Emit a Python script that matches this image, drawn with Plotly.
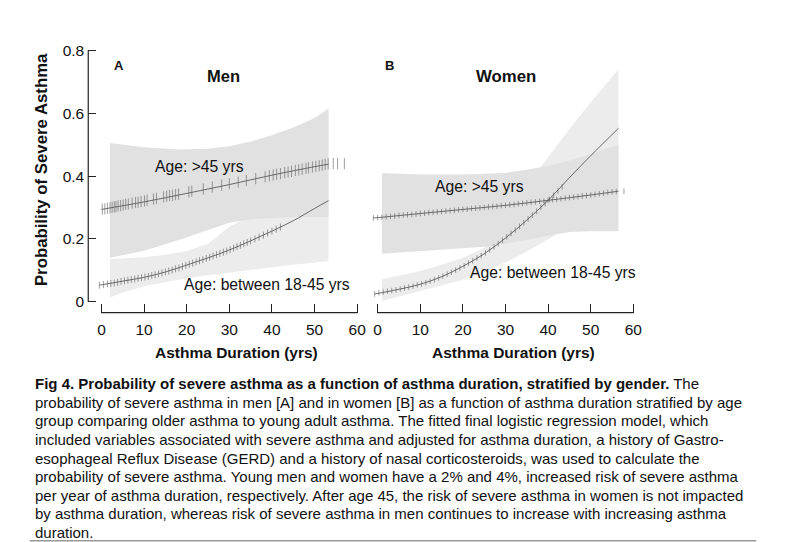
import plotly.graph_objects as go

OFF = 8  # the page body has an 8px margin; work in window pixels
W, H = 790 - OFF, 542 - OFF
FONT = "Liberation Sans, Arial, sans-serif"


def pxx(p):
    return (p - OFF) / W


def pxy(p):
    return 1 - (p - OFF) / H


# ---------------- data ----------------
x_ticks = [0, 10, 20, 30, 40, 50, 60]
y_ticks = [0, 0.2, 0.4, 0.6, 0.8]
y_tick_text = ["0", "0.2", "0.4", "0.6", "0.8"]

# Men, age > 45
men_old_line_x = [0, 10, 20, 30, 40, 50, 53.3]
men_old_line_y = [0.294, 0.318, 0.345, 0.373, 0.403, 0.430, 0.438]
men_old_band_x = [2, 10, 18, 25, 30, 35, 40, 45, 50, 53.3]
men_old_lo = [0.140, 0.163, 0.196, 0.228, 0.252, 0.263, 0.267, 0.269, 0.270, 0.270]
men_old_hi = [0.505, 0.492, 0.485, 0.487, 0.495, 0.510, 0.530, 0.555, 0.585, 0.615]
men_old_rug_x = [0.2, 0.8, 1.4, 2.0, 2.5, 3.0, 3.4, 3.9, 4.5, 5.1, 5.7, 6.3, 7.2, 8.0, 8.6,
                 9.3, 10.1, 10.7, 12.2, 12.9, 14.6, 15.3, 16.0, 16.7, 17.4, 18.1, 20.5, 21.2,
                 23.9, 26.0, 28.2, 30.0, 32.1, 34.0, 36.2, 38.4, 39.4, 40.3, 41.1, 42.0, 43.0,
                 43.8, 44.6, 45.5, 46.3, 47.1, 48.0, 48.6, 49.5, 50.3, 51.1, 51.8, 52.5, 53.2,
                 54.4, 55.4, 57.0]
men_old_rug_y = [0.295, 0.296, 0.298, 0.299, 0.301, 0.302, 0.303, 0.305, 0.306, 0.308, 0.310,
                 0.311, 0.314, 0.316, 0.317, 0.319, 0.321, 0.323, 0.327, 0.329, 0.334, 0.336,
                 0.338, 0.339, 0.341, 0.343, 0.350, 0.352, 0.359, 0.365, 0.371, 0.376, 0.381,
                 0.386, 0.392, 0.398, 0.401, 0.404, 0.406, 0.408, 0.411, 0.413, 0.415, 0.418,
                 0.420, 0.422, 0.425, 0.426, 0.429, 0.431, 0.433, 0.435, 0.437, 0.439, 0.440,
                 0.440, 0.440]

# Men, age 18-45
men_young_line_x = [-0.5, 5, 10, 15, 20, 25, 30, 35, 40, 45, 50, 53.3]
men_young_line_y = [0.053, 0.066, 0.078, 0.095, 0.117, 0.140, 0.165, 0.194, 0.225, 0.258, 0.297, 0.322]
men_young_band_x = [2, 5, 10, 15, 20, 25, 30, 35, 40, 45, 53.3]
men_young_lo = [0.014, 0.030, 0.050, 0.063, 0.075, 0.085, 0.094, 0.102, 0.110, 0.118, 0.130]
men_young_hi = [0.136, 0.138, 0.142, 0.150, 0.162, 0.185, 0.240, 0.272, 0.276, 0.278, 0.280]
men_young_rug_x = [-0.5, 0.5, 1.4, 2.2, 3.0, 3.8, 4.6, 5.4, 6.2, 7.0, 7.8, 8.6, 9.4, 10.2, 11.0,
                   11.8, 12.6, 13.4, 14.2, 15.0, 15.8, 16.6, 17.4, 18.2, 19.0, 19.8, 20.6, 21.4,
                   22.2, 23.0, 23.8, 24.6, 25.4, 26.2, 27.0, 27.8, 28.6, 29.4, 30.2, 31.0, 31.8,
                   32.6, 33.4, 34.2, 35.0, 36.0, 37.0, 38.0, 39.0, 40.0, 41.0, 42.0]
men_young_rug_y = [0.053, 0.055, 0.057, 0.058, 0.060, 0.062, 0.065, 0.067, 0.069, 0.071, 0.073,
                   0.075, 0.077, 0.079, 0.081, 0.084, 0.086, 0.089, 0.092, 0.095, 0.098, 0.101,
                   0.105, 0.108, 0.112, 0.116, 0.120, 0.123, 0.127, 0.131, 0.134, 0.138, 0.142,
                   0.146, 0.150, 0.154, 0.158, 0.162, 0.166, 0.171, 0.176, 0.180, 0.185, 0.189,
                   0.194, 0.200, 0.206, 0.212, 0.219, 0.225, 0.231, 0.238]

# Women, age > 45
wom_old_line_x = [-1, 0, 10, 20, 30, 40, 50, 56.5]
wom_old_line_y = [0.267, 0.268, 0.281, 0.294, 0.307, 0.323, 0.340, 0.352]
wom_old_band_x = [1, 10, 20, 25, 30, 35, 40, 45, 50, 56.5]
wom_old_lo = [0.153, 0.160, 0.170, 0.175, 0.185, 0.197, 0.210, 0.222, 0.225, 0.225]
wom_old_hi = [0.410, 0.405, 0.405, 0.407, 0.410, 0.420, 0.432, 0.450, 0.470, 0.500]
wom_old_rug_x = [-1, 0, 1, 2, 3, 4, 5, 6, 7, 8, 9, 10, 11, 12, 13, 14, 15, 16, 17, 18, 19, 20,
                 21, 22, 23, 24, 25, 26, 27, 28, 29, 30, 31, 32, 33, 34, 35, 36, 37, 38, 39, 40,
                 41, 42, 43, 44, 45, 46, 47, 48, 49, 50, 51, 52, 53, 54, 55, 56, 57.8]
wom_old_rug_y = [0.267, 0.268, 0.269, 0.271, 0.272, 0.273, 0.275, 0.276, 0.277, 0.278, 0.280,
                 0.281, 0.282, 0.284, 0.285, 0.286, 0.287, 0.289, 0.290, 0.291, 0.293, 0.294,
                 0.295, 0.297, 0.298, 0.299, 0.300, 0.302, 0.303, 0.304, 0.306, 0.307, 0.309,
                 0.310, 0.312, 0.313, 0.315, 0.317, 0.318, 0.320, 0.321, 0.323, 0.325, 0.326,
                 0.328, 0.330, 0.332, 0.333, 0.335, 0.337, 0.338, 0.340, 0.342, 0.344, 0.346,
                 0.348, 0.350, 0.351, 0.352]

# Women, age 18-45
wom_young_line_x = [-0.7, 5, 10, 15, 20, 25, 30, 35, 40, 45, 50, 56.5]
wom_young_line_y = [0.025, 0.040, 0.056, 0.080, 0.113, 0.153, 0.203, 0.260, 0.323, 0.395, 0.465, 0.552]
wom_young_band_x = [1, 5, 10, 15, 20, 25, 30, 35, 37.7, 40, 45, 50, 56.5]
wom_young_lo = [0.003, 0.018, 0.035, 0.052, 0.070, 0.095, 0.125, 0.160, 0.180, 0.198, 0.238, 0.280, 0.330]
wom_young_hi = [0.072, 0.083, 0.098, 0.118, 0.140, 0.172, 0.260, 0.365, 0.420, 0.460, 0.550, 0.635, 0.740]
wom_young_rug_x = [-0.7, 0.3, 1.3, 2.3, 3.3, 4.3, 5.3, 6.3, 7.3, 8.3, 9.3, 10.3, 11.3, 12.3, 13.3,
                   14.3, 15.3, 16.3, 17.3, 18.3, 19.3, 20.3, 21.3, 22.3, 23.3, 24.3, 25.3, 26.3,
                   27.3, 28.3, 29.3, 30.3, 31.3, 32.3, 33.3, 34.3, 35.3, 36.3, 37.3, 38.3, 39.3,
                   40.3, 41.3, 42.3, 43.3]
wom_young_rug_y = [0.025, 0.029, 0.031, 0.034, 0.036, 0.038, 0.041, 0.044, 0.047, 0.050, 0.054,
                   0.057, 0.061, 0.066, 0.071, 0.076, 0.082, 0.088, 0.094, 0.101, 0.108, 0.115,
                   0.123, 0.131, 0.139, 0.147, 0.156, 0.165, 0.175, 0.185, 0.196, 0.207, 0.218,
                   0.229, 0.240, 0.252, 0.264, 0.276, 0.288, 0.301, 0.313, 0.326, 0.339, 0.353,
                   0.366]

caption_lines = [
    "<b>Fig 4. Probability of severe asthma as a function of asthma duration, stratified by gender.</b> The",
    "probability of severe asthma in men [A] and in women [B] as a function of asthma duration stratified by age",
    "group comparing older asthma to young adult asthma. The fitted final logistic regression model, which",
    "included variables associated with severe asthma and adjusted for asthma duration, a history of Gastro-",
    "esophageal Reflux Disease (GERD) and a history of nasal corticosteroids, was used to calculate the",
    "probability of severe asthma. Young men and women have a 2% and 4%, increased risk of severe asthma",
    "per year of asthma duration, respectively. After age 45, the risk of severe asthma in women is not impacted",
    "by asthma duration, whereas risk of severe asthma in men continues to increase with increasing asthma",
    "duration.",
]

# ---------------- styles ----------------
OLD_FILL = "#e1e1e1"
YOUNG_FILL = "#ececec"
LINE_C = "#4a4a4a"
RUG_C = "rgba(95,95,95,0.6)"
AX_C = "#222222"

fig = go.Figure()


def band(xs, lo, hi, color, xa, ya):
    fig.add_trace(go.Scatter(
        x=list(xs) + list(xs)[::-1], y=list(hi) + list(lo)[::-1],
        fill="toself", fillcolor=color, mode="lines", line=dict(width=0),
        hoverinfo="skip", showlegend=False, xaxis=xa, yaxis=ya))


def curve(xs, ys, xa, ya):
    fig.add_trace(go.Scatter(
        x=xs, y=ys, mode="lines", line=dict(color=LINE_C, width=0.8, shape="spline"),
        hoverinfo="skip", showlegend=False, xaxis=xa, yaxis=ya))


def rug(xs, ys, size, xa, ya):
    fig.add_trace(go.Scatter(
        x=xs, y=ys, mode="markers",
        marker=dict(symbol="line-ns", size=size, line=dict(color=RUG_C, width=1)),
        hoverinfo="skip", showlegend=False, xaxis=xa, yaxis=ya))


# Panel A (men)
band(men_young_band_x, men_young_lo, men_young_hi, YOUNG_FILL, "x", "y")
band(men_old_band_x, men_old_lo, men_old_hi, OLD_FILL, "x", "y")
curve(men_old_line_x, men_old_line_y, "x", "y")
curve(men_young_line_x, men_young_line_y, "x", "y")
rug(men_old_rug_x, men_old_rug_y, 8, "x", "y")
rug(men_young_rug_x, men_young_rug_y, 5, "x", "y")

# Panel B (women)
band(wom_young_band_x, wom_young_lo, wom_young_hi, YOUNG_FILL, "x2", "y2")
band(wom_old_band_x, wom_old_lo, wom_old_hi, OLD_FILL, "x2", "y2")
curve(wom_old_line_x, wom_old_line_y, "x2", "y2")
curve(wom_young_line_x, wom_young_line_y, "x2", "y2")
rug(wom_old_rug_x, wom_old_rug_y, 4, "x2", "y2")
rug(wom_young_rug_x, wom_young_rug_y, 4, "x2", "y2")

y_dom = [pxy(311.7), pxy(42.2)]
y_rng = [-0.034, 0.82]

xaxis_common = dict(
    tickmode="array", tickvals=x_ticks, ticktext=[str(v) for v in x_ticks],
    ticks="inside", ticklen=9, tickwidth=1.2, tickcolor=AX_C,
    showline=False, showgrid=False, zeroline=False,
    tickfont=dict(family=FONT, size=15.5, color="#111"),
    ticklabelstandoff=6, fixedrange=True,
)

fig.update_layout(
    width=W, height=H,
    margin=dict(l=0, r=0, t=0, b=0),
    paper_bgcolor="white", plot_bgcolor="white",
    showlegend=False,
    xaxis=dict(domain=[pxx(88.97), pxx(362.45)], range=[-3.1, 60.5], anchor="y", **xaxis_common),
    xaxis2=dict(domain=[pxx(371.54), pxx(641.15)], range=[-2.2, 60.5], anchor="y2", **xaxis_common),
    yaxis=dict(
        domain=y_dom, range=y_rng, anchor="x",
        tickmode="array", tickvals=y_ticks, ticktext=y_tick_text,
        ticks="inside", ticklen=8, tickwidth=1.2, tickcolor=AX_C,
        showline=False, showgrid=False, zeroline=False,
        tickfont=dict(family=FONT, size=15.5, color="#111"),
        ticklabelstandoff=3, fixedrange=True,
    ),
    yaxis2=dict(
        domain=y_dom, range=y_rng, anchor="x2",
        showticklabels=False, ticks="", showline=False, showgrid=False, zeroline=False,
        fixedrange=True,
    ),
)

shapes = [
    dict(type="line", xref="x domain", yref="y", x0=0, x1=0, y0=0, y1=0.8,
         line=dict(color=AX_C, width=1.2)),
    dict(type="line", xref="x", yref="y domain", x0=0, x1=60, y0=0, y1=0,
         line=dict(color=AX_C, width=1.2)),
    dict(type="line", xref="x2", yref="y2 domain", x0=0, x1=60, y0=0, y1=0,
         line=dict(color=AX_C, width=1.2)),
    dict(type="line", xref="paper", yref="paper", x0=pxx(30), x1=pxx(763),
         y0=pxy(540.7), y1=pxy(540.7), line=dict(color="#9a9a9a", width=1.5)),
]
fig.update_layout(shapes=shapes)


def ann(text, x, y, size, bold=False, xanchor="left", yanchor="middle", angle=0, align="left"):
    fig.add_annotation(
        text=f"<b>{text}</b>" if bold else text,
        xref="paper", yref="paper", x=pxx(x), y=pxy(y),
        xanchor=xanchor, yanchor=yanchor, showarrow=False, textangle=angle,
        align=align, font=dict(family=FONT, size=size, color="#111"))


ann("A", 113.3, 63.3, 13, bold=True)
ann("B", 386.7, 63.3, 13, bold=True)
ann("Men", 225, 74.3, 16.5, bold=True, xanchor="center")
ann("Women", 510.8, 74.3, 16.8, bold=True, xanchor="center")
ann("Age: &gt;45 yrs", 154, 165, 15.7)
ann("Age: between 18-45 yrs", 183.3, 284, 15.7)
ann("Age: &gt;45 yrs", 436.7, 185, 15.7)
ann("Age: between 18-45 yrs", 471.7, 271.7, 15.7)
ann("Asthma Duration (yrs)", 238.3, 351.7, 15.5, bold=True, xanchor="center")
ann("Asthma Duration (yrs)", 518.3, 351.7, 15.5, bold=True, xanchor="center")
ann("Probability of Severe Asthma", 41.7, 168.3, 16.8, bold=True, xanchor="center", angle=-90)

for i, line in enumerate(caption_lines):
    ann(line, 33, 383.3 + 18.6 * i, 15)

fig.write_html("out.html")
